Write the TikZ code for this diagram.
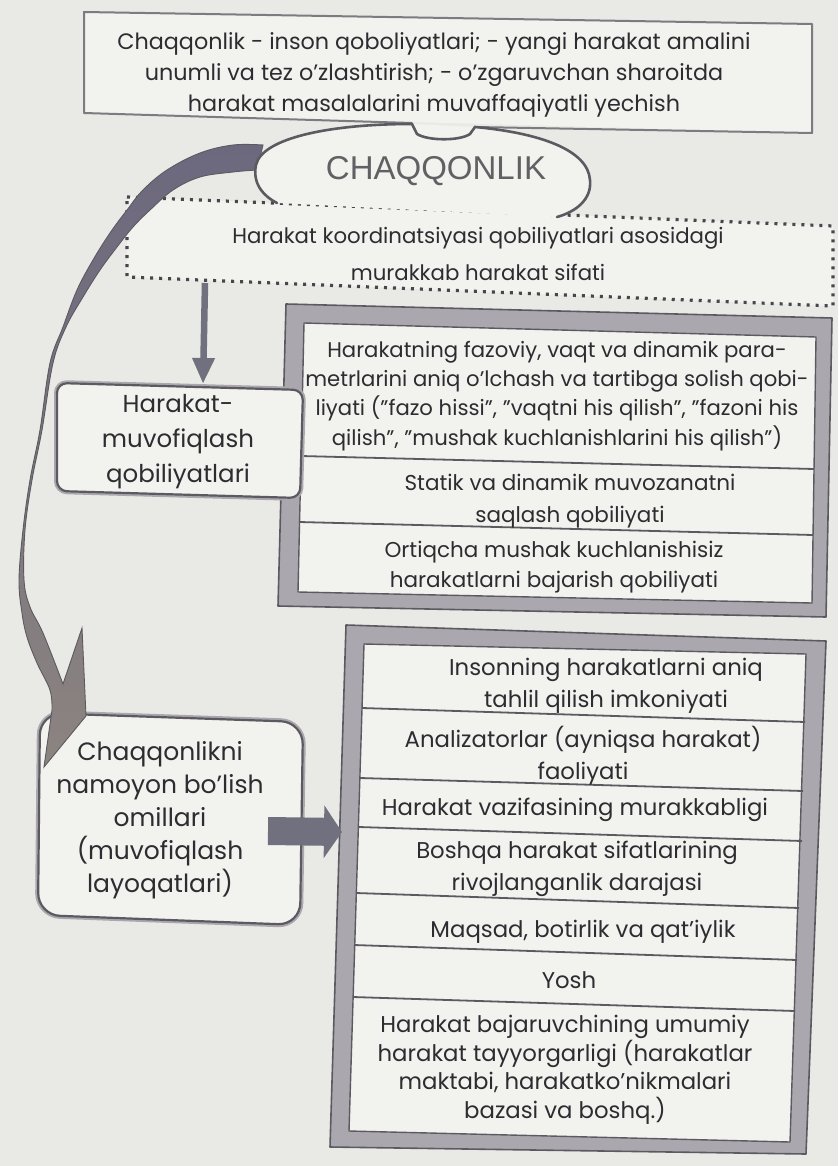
\documentclass[tikz,border=0pt]{standalone}
\usepackage{fontspec}
\setmainfont{Poppins}
\newfontfamily\titlefont{Liberation Sans}
\usetikzlibrary{arrows.meta}
\definecolor{paper}{RGB}{233,233,229}
\definecolor{boxfill}{RGB}{242,242,239}
\definecolor{ink}{RGB}{45,44,48}
\definecolor{edgegray}{RGB}{125,123,127}
\definecolor{framegray}{RGB}{170,168,174}
\definecolor{framedark}{RGB}{92,90,96}
\definecolor{ribbonA}{RGB}{108,104,126}
\definecolor{ribbonB}{RGB}{140,132,128}
\definecolor{arrowgray}{RGB}{112,112,126}
\definecolor{dotink}{RGB}{70,70,76}
\tikzset{
  txt/.style={text=ink, inner sep=0pt, align=center},
  thinbox/.style={draw=edgegray, line width=2pt, line join=round},
  dotbox/.style={draw=dotink, line width=3.2pt, dash pattern=on 3pt off 6pt},
  bandfill/.style={fill=framegray, even odd rule},
  bandedge/.style={draw=framedark, line width=1.6pt, line join=round},
  cellbox/.style={draw=framedark, line width=1.4pt, fill=boxfill, line join=round},
  divider/.style={draw=framedark, line width=1.8pt},
  halo/.style={draw=framegray, line width=6pt},
  roundedge/.style={draw=framedark, line width=2.2pt, fill=boxfill},
  ribbonshape/.style={draw=framedark, line width=0.9pt, top color=ribbonA, bottom color=ribbonB},
  bubbleline/.style={draw=framedark, line width=2.6pt, line cap=round},
}
\begin{document}
\begin{tikzpicture}[x=1pt,y=-1pt]
\useasboundingbox (0,0) rectangle (838,1166);
\fill[paper] (0,0) rectangle (838,1166);

% ---------- named coordinates ----------
\coordinate (dotB) at (205,283);
\coordinate (hmT) at (203,384);
\coordinate (chR) at (268,831);
\coordinate (bigL) at (342,832);

% ---------- top box ----------
\fill[boxfill] (84,12) -- (812,24) -- (812,133) -- (84,113) -- cycle;
\draw[thinbox] (412,123) -- (84,113) -- (84,12) -- (812,24) -- (812,133) -- (475,127);

% ---------- dotted box ----------
\fill[boxfill] (127,197) -- (833,226) -- (833,306) -- (127,277) -- cycle;
\draw[dotbox] (127,197) -- (833,226) -- (833,306) -- (127,277) -- cycle;

% ---------- vertical arrow ----------
\draw[arrowgray, line width=6.5pt, -{Triangle[width=21pt,length=26pt]}] (dotB) -- (hmT);

% ---------- second framed box ----------
\fill[bandfill] (286,304) -- (832,318) -- (826,617) -- (278,606) -- cycle
                (304,323) -- (816,337) -- (812,603) -- (298,592) -- cycle;
\draw[bandedge] (286,304) -- (832,318) -- (826,617) -- (278,606) -- cycle;
\draw[cellbox] (304,323) -- (816,337) -- (812,603) -- (298,592) -- cycle;
\draw[divider] (301,456) -- (814,469);
\draw[divider] (299,522) -- (813,535);

% ---------- Harakat-muvofiqlash box ----------
\draw[halo, rounded corners=10pt] (57,383) -- (303,390) -- (300,498) -- (57,491) -- cycle;
\draw[roundedge, rounded corners=10pt] (57,383) -- (303,390) -- (300,498) -- (57,491) -- cycle;

% ---------- third framed box ----------
\fill[bandfill] (346,625) -- (826,641) -- (806,1154) -- (330,1147) -- cycle
                (364,644) -- (806,654) -- (790,1142) -- (349,1131) -- cycle;
\draw[bandedge] (346,625) -- (826,641) -- (806,1154) -- (330,1147) -- cycle;
\draw[cellbox] (364,644) -- (806,654) -- (790,1142) -- (349,1131) -- cycle;
\draw[divider] (362,708) -- (805,722);
\draw[divider] (360,778) -- (803,791);
\draw[divider] (359,827) -- (802,841);
\draw[divider] (356,893) -- (799,908);
\draw[divider] (354,945) -- (797,960);
\draw[divider] (353,997) -- (795,1011);

% ---------- Chaqqonlikni box ----------
\draw[halo, rounded corners=22pt] (40,713) -- (303,722) -- (300,925) -- (38,915) -- cycle;
\draw[roundedge, rounded corners=22pt] (40,713) -- (303,722) -- (300,925) -- (38,915) -- cycle;

% ---------- block arrow ----------
\draw[arrowgray, line width=28pt, -{Triangle[width=52pt,length=18pt]}] (chR) -- (bigL);

% ---------- big curved arrow ----------
\path[ribbonshape] plot[smooth, tension=0.6] coordinates {(263,145) (233,145) (200,153) (167,170) (143,190) (127,210) (110,233) (93,260) (77,290) (63,327) (50,363) (40,430) (30,480) (23,530) (19,580) (22,613) (27,637) (37,663) (50,690) (52,710)}
  -- (44,767) -- (86,716) -- (82,628)
  -- plot[smooth, tension=0.6] coordinates {(63,684) (43,633) (30,607) (24,580) (25,530) (32,480) (42,430) (53,363) (66,327) (83,297) (100,270) (117,247) (133,227) (150,210) (173,190) (200,177) (233,172) (257,170)} -- cycle;

% ---------- bubble ----------
\fill[boxfill] (277,203) .. controls (265,197) and (252,185) .. (256,165) .. controls (262,138) and (330,124) .. (412,124) -- (475,127) .. controls (540,133) and (588,150) .. (590,180) .. controls (592,200) and (575,212) .. (557,217) -- cycle;
\draw[bubbleline] (277,203) .. controls (265,197) and (252,185) .. (256,165) .. controls (262,138) and (330,124) .. (412,124) -- (417,134) .. controls (428,141) and (460,141) .. (470,134) -- (475,127) .. controls (540,133) and (588,150) .. (590,180) .. controls (592,200) and (575,212) .. (557,217);

% ---------- texts ----------
\node[txt, font=\fontsize{22.3}{31}\selectfont] (ttop) at (434,75) {Chaqqonlik - inson qoboliyatlari; - yangi harakat amalini\\unumli va tez o'zlashtirish; - o'zgaruvchan sharoitda\\harakat masalalarini muvaffaqiyatli yechish};
\node[txt, font=\titlefont\fontsize{33}{38}\selectfont, text=ink!75] (tchaq) at (436,171) {CHAQQONLIK};
\node[txt, font=\fontsize{21.3}{37}\selectfont] (tdot) at (478,254) {Harakat koordinatsiyasi qobiliyatlari asosidagi\\murakkab harakat sifati};
\node[txt, font=\fontsize{24.5}{35}\selectfont] (thm) at (178,442) {Harakat-\\muvofiqlash\\qobiliyatlari};
\node[txt, font=\fontsize{21.2}{29.3}\selectfont] (s1) at (557,396) {Harakatning fazoviy, vaqt va dinamik para-\\metrlarini aniq o'lchash va tartibga solish qobi-\\liyati ("fazo hissi", "vaqtni his qilish", "fazoni his\\qilish", "mushak kuchlanishlarini his qilish")};
\node[txt, font=\fontsize{21.5}{32}\selectfont] (s2) at (570,501) {Statik va dinamik muvozanatni\\saqlash qobiliyati};
\node[txt, font=\fontsize{21.5}{30}\selectfont] (s3) at (554,567) {Ortiqcha mushak kuchlanishisiz\\harakatlarni bajarish qobiliyati};
\node[txt, font=\fontsize{25}{33}\selectfont] (tch) at (160,820) {Chaqqonlikni\\namoyon bo'lish\\omillari\\(muvofiqlash\\layoqatlari)};
\node[txt, font=\fontsize{22.8}{32}\selectfont] (b1) at (606,686) {Insonning harakatlarni aniq\\tahlil qilish imkoniyati};
\node[txt, font=\fontsize{22.8}{32}\selectfont] (b2) at (583,756) {Analizatorlar (ayniqsa harakat)\\faoliyati};
\node[txt, font=\fontsize{22.8}{32}\selectfont] (b3) at (575,810) {Harakat vazifasining murakkabligi};
\node[txt, font=\fontsize{22.8}{32}\selectfont] (b4) at (577,869) {Boshqa harakat sifatlarining\\rivojlanganlik darajasi};
\node[txt, font=\fontsize{22.8}{32}\selectfont] (b5) at (583,932) {Maqsad, botirlik va qat'iylik};
\node[txt, font=\fontsize{22.8}{32}\selectfont] (b6) at (569,980) {Yosh};
\node[txt, font=\fontsize{22.8}{28.5}\selectfont] (b7) at (565,1070) {Harakat bajaruvchining umumiy\\harakat tayyorgarligi (harakatlar\\maktabi, harakatko'nikmalari\\bazasi va boshq.)};
\end{tikzpicture}
\end{document}
